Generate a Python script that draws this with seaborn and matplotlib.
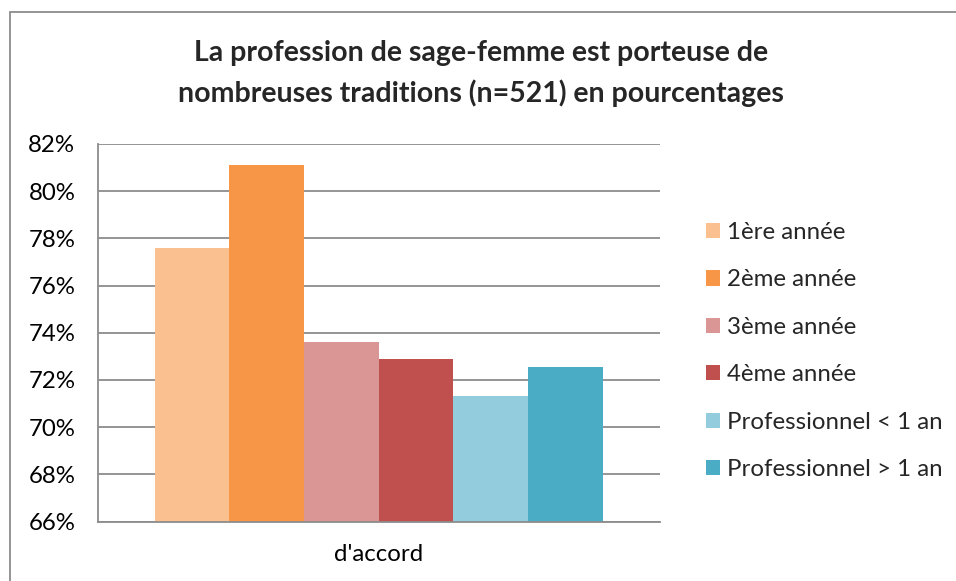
import matplotlib
matplotlib.use("Agg")
import matplotlib.pyplot as plt
import seaborn as sns
import pandas as pd
from matplotlib.patches import Rectangle
from matplotlib.ticker import FuncFormatter

categories = ["d'accord"]
groups = ["1ère année", "2ème année", "3ème année", "4ème année",
          "Professionnel < 1 an", "Professionnel > 1 an"]
values = [77.6, 81.1, 73.6, 72.9, 71.3, 72.55]
colors = ["#FAC090", "#F79646", "#D99694", "#C0504D", "#93CDDD", "#4BACC6"]
yticks = [66, 68, 70, 72, 74, 76, 78, 80, 82]

df = pd.DataFrame({"cat": categories * len(groups), "group": groups, "value": values})

sns.set_theme(style="white")
plt.rcParams['font.family'] = ['Lato', 'DejaVu Sans']

W, H = 956, 581
fig = plt.figure(figsize=(W / 100, H / 100), dpi=100)
ax = fig.add_axes([97.5 / W, 1 - 521.5 / H, (660 - 97.5) / W, (521.5 - 144) / H])

sns.barplot(data=df, x="cat", y="value", hue="group", palette=colors,
            hue_order=groups, ax=ax, width=0.8, saturation=1, legend=True,
            linewidth=0)

ax.set_ylim(66, 82)
ax.set_xlim(-0.5025, 0.5025)
ax.set_yticks(yticks)
ax.yaxis.set_major_formatter(FuncFormatter(lambda v, p: f"{int(round(v))}%"))
ax.grid(axis="y", color="#8c8c8c", linewidth=1.3)
ax.set_axisbelow(True)
for s in ["top", "right"]:
    ax.spines[s].set_visible(False)
for s in ["left", "bottom"]:
    ax.spines[s].set_color("#8c8c8c")
    ax.spines[s].set_linewidth(1.3)
ax.tick_params(axis="both", length=0, labelsize=17.3, colors="black")
ax.tick_params(axis="y", pad=16)
ax.tick_params(axis="x", pad=16)
ax.set_xlabel("")
ax.set_ylabel("")

handles, labels = ax.get_legend_handles_labels()
ax.legend(handles, labels, loc="center left", bbox_to_anchor=(696 / W, 1 - 351 / H),
          bbox_transform=fig.transFigure, frameon=False, fontsize=17.3,
          handlelength=0.6, handleheight=0.6, handletextpad=0.3,
          labelspacing=1.1, borderaxespad=0)

fig.text(481 / W, 1 - 53 / H, "La profession de sage-femme est porteuse de",
         ha="center", va="center", fontsize=20.5, fontweight="bold")
fig.text(481 / W, 1 - 93 / H, "nombreuses traditions (n=521) en pourcentages",
         ha="center", va="center", fontsize=20.5, fontweight="bold")

fig.patches.append(Rectangle((10 / W, -0.1), 1.2, 1 - 12 / H + 0.1,
                             transform=fig.transFigure, fill=False,
                             edgecolor="#8c8c8c", linewidth=1.3))

fig.savefig("out.png", dpi=100)
